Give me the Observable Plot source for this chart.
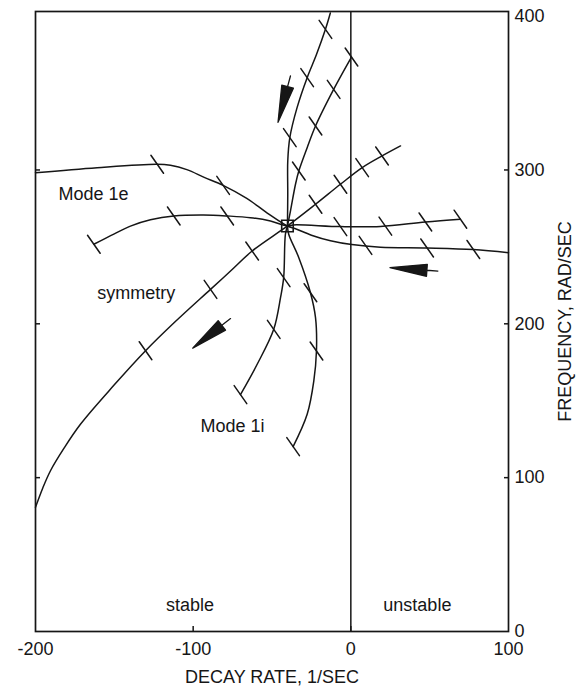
<!DOCTYPE html>
<html>
<head>
<meta charset="utf-8">
<script src="https://cdn.jsdelivr.net/npm/d3@7"></script>
<script src="https://cdn.jsdelivr.net/npm/@observablehq/plot@0.6"></script>
<style>
  html, body { margin: 0; padding: 0; background: #fff; }
</style>
</head>
<body>
<div id="chart"></div>
<script>
// Axis ticks
const xTicks = [-200, -100, 0, 100];
const yTicks = [0, 100, 200, 300, 400];
const innerTicksX = [-100, 0];
const innerTicksY = [100, 200, 300];

// Root loci: [decay rate (1/s), frequency (rad/s)]
// Mode 1e branch: from the upper left through the double root, out to the lower right
const mode1e = [[-200, 298.2], [-160.9, 301.5], [-122.8, 303.7], [-114.4, 303.0], [-104, 300.2],
  [-93, 295.2], [-81, 290], [-66, 281.5], [-53, 272], [-40.2, 263.6], [-35.1, 261.8], [-25, 257.6],
  [-12.9, 254], [0.6, 251.5], [18.8, 249.8], [48.4, 249.3], [77.7, 248.3], [100, 246.2]];
const mode1eTicks = [[-122.8, 303.7], [-81, 290], [9.3, 251], [48.4, 249.3], [77.7, 248.3]];

// Companion branch that runs almost level through the double root
const levelBranch = [[-163, 251.7], [-150, 258.5], [-139.8, 263.5], [-127.1, 267.6], [-112.3, 270.1],
  [-93.5, 270.7], [-78.4, 270.1], [-63.7, 269], [-51, 266.8], [-40.2, 263.6], [-36.4, 264.3],
  [-6.6, 263.2], [18.8, 263.3], [47.3, 266.2], [69.5, 268]];
const levelTicks = [[-163, 251.7], [-112.3, 270.1], [-78.4, 270.1], [-6.6, 263.2], [21.9, 263.5],
  [47.3, 266.2], [69.5, 268]];

// Symmetry branch (diagonal)
const symmetry = [[-200, 80.7], [-195.5, 93], [-190.5, 104.5], [-182, 119], [-171.5, 134.7],
  [-150.3, 160], [-130.2, 182.5], [-112.3, 200.5], [-89, 222.4], [-76.3, 234.3], [-62.6, 247.3],
  [-40.2, 263.6], [-22.4, 277.7], [-6.6, 290.7], [7.2, 301.5], [19.8, 309.1], [31.5, 315.6]];
const symmetryTicks = [[-130.2, 182.5], [-89, 222.4], [-62.6, 247.3], [-22.4, 277.7], [-6.6, 290.7],
  [7.2, 301.5], [19.8, 309.1]];

// Upper branches
const upperLeft = [[-40.2, 263.6], [-40, 284.2], [-40, 305.8], [-38.7, 321], [-34.1, 340.5],
  [-27.7, 360], [-21.8, 375], [-16.1, 391.4], [-13, 402]];
const upperLeftTicks = [[-16.1, 391.4], [-27.7, 360], [-38.7, 321]];
const upperRight = [[-40.2, 263.6], [-38.3, 273.3], [-35.1, 290.7], [-33, 299.3], [-27.7, 314.5],
  [-22.4, 328.6], [-10.9, 352.4], [0.4, 373.4]];
const upperRightTicks = [[-33, 299.3], [-22.4, 328.6], [-10.9, 352.4], [0.4, 373.4]];

// Mode 1i branches below the double root
const lowerLeft = [[-40.2, 263.6], [-41.5, 258.2], [-42.6, 230], [-44.6, 217], [-48.9, 196.4],
  [-59.4, 173.7], [-70, 154]];
const lowerLeftTicks = [[-42.6, 230], [-48.9, 196.4], [-70, 154]];
const lowerRight = [[-40.2, 263.6], [-39.4, 258.2], [-33, 243], [-25.6, 220.2], [-22.4, 204],
  [-21.8, 182.3], [-23.5, 162.8], [-27.7, 141.2], [-36.6, 120.2]];
const lowerRightTicks = [[-25.6, 220.2], [-21.8, 182.3], [-36.6, 120.2]];

// Double root
const doubleRoot = [[-40.2, 263.6]];

// Direction arrows: tail position and heading (degrees clockwise from up)
const arrowTails = [[-38.3, 361.1], [-76.3, 203.4], [55.2, 234.3]];
const arrowHeadings = [195, 232, 274];

// Text
const modeLabels = ["Mode 1e", "symmetry", "Mode 1i"];
const modeLabelPos = [[-185.4, 284.4], [-160.9, 220], [-95.3, 133.6]];
const regionLabels = ["stable", "unstable"];
const regionLabelPos = [[-102, 17.2], [42.2, 17.2]];
const xTitle = "DECAY RATE, 1/SEC";
const yTitle = "FREQUENCY, RAD/SEC";

// ---- drawing ----
const ink = "#161616";
const font = "'Liberation Sans', Arial, Helvetica, sans-serif";
const X = d => d[0];
const Y = d => d[1];

const branches = [mode1e, levelBranch, symmetry, upperLeft, upperRight, lowerLeft, lowerRight];
const allTicks = [].concat(mode1eTicks, levelTicks, symmetryTicks, upperLeftTicks,
  upperRightTicks, lowerLeftTicks, lowerRightTicks);
const arrows = arrowTails.map((p, i) => ({x: p[0], y: p[1], heading: arrowHeadings[i]}));
const modeText = modeLabels.map((t, i) => ({text: t, x: modeLabelPos[i][0], y: modeLabelPos[i][1]}));
const regionText = regionLabels.map((t, i) => ({text: t, x: regionLabelPos[i][0], y: regionLabelPos[i][1]}));

// a plain stroke for the hatch marks along each branch
const hatch = {draw(ctx, l) { ctx.moveTo(0, 0); ctx.lineTo(0, -l); }};
// a short shaft followed by a long, narrow filled head
const dart = {draw(ctx, l, r) {
  const t = 11;
  ctx.moveTo(0, 0); ctx.lineTo(0, -t);
  ctx.moveTo(-r, -t); ctx.lineTo(0, -l); ctx.lineTo(r, -t); ctx.closePath();
}};

const chart = Plot.plot({
  width: 576,
  height: 686,
  marginLeft: 35,
  marginRight: 68,
  marginTop: 11,
  marginBottom: 55,
  x: {domain: [-200, 100]},
  y: {domain: [0, 403]},
  style: {fontFamily: font, fontSize: "18px", color: ink, background: "#fff"},
  marks: [
    Plot.frame({stroke: ink, strokeWidth: 1.7}),
    Plot.ruleX([0], {stroke: ink, strokeWidth: 1.5}),
    ...branches.map(b => Plot.line(b, {x: X, y: Y, curve: "catmull-rom", stroke: ink, strokeWidth: 1.5})),
    Plot.vector(allTicks, {x: X, y: Y, length: 22, rotate: 145, anchor: "middle", shape: hatch,
      stroke: ink, strokeWidth: 1.5}),
    Plot.dot(doubleRoot, {x: X, y: Y, symbol: "square", r: 6.5, stroke: ink, strokeWidth: 1.6, fill: "none"}),
    Plot.vector(arrows, {x: "x", y: "y", rotate: "heading", length: 48, r: 6, anchor: "start",
      shape: dart, fill: ink, stroke: ink, strokeWidth: 1.3}),
    Plot.text(modeText, {x: "x", y: "y", text: "text", textAnchor: "start", fontSize: 18, fill: ink}),
    Plot.text(regionText, {x: "x", y: "y", text: "text", fontSize: 18, fill: ink}),
    Plot.axisX(xTicks, {anchor: "bottom", tickSize: 0, tickPadding: 11, tickFormat: d => String(d),
      fontSize: 18, label: null}),
    Plot.axisX(innerTicksX, {anchor: "bottom", tickSize: 5, insetBottom: 5, tickFormat: () => "",
      label: null, strokeWidth: 1.5}),
    Plot.axisY(yTicks, {anchor: "right", tickSize: 0, tickPadding: 6, tickFormat: d => String(d),
      fontSize: 18, label: null}),
    Plot.axisY(innerTicksY, {anchor: "right", tickSize: 5, insetRight: 5, tickFormat: () => "",
      label: null, strokeWidth: 1.5}),
    Plot.axisY(innerTicksY, {anchor: "left", tickSize: 5, insetLeft: 5, tickFormat: () => "",
      label: null, strokeWidth: 1.5}),
    Plot.text([xTitle], {frameAnchor: "bottom", dy: 51, fontSize: 18, fill: ink}),
    Plot.text([yTitle], {frameAnchor: "right", textAnchor: "middle", dx: 57, rotate: -90,
      fontSize: 18, fill: ink})
  ]
});

document.getElementById("chart").appendChild(chart);
</script>
</body>
</html>
